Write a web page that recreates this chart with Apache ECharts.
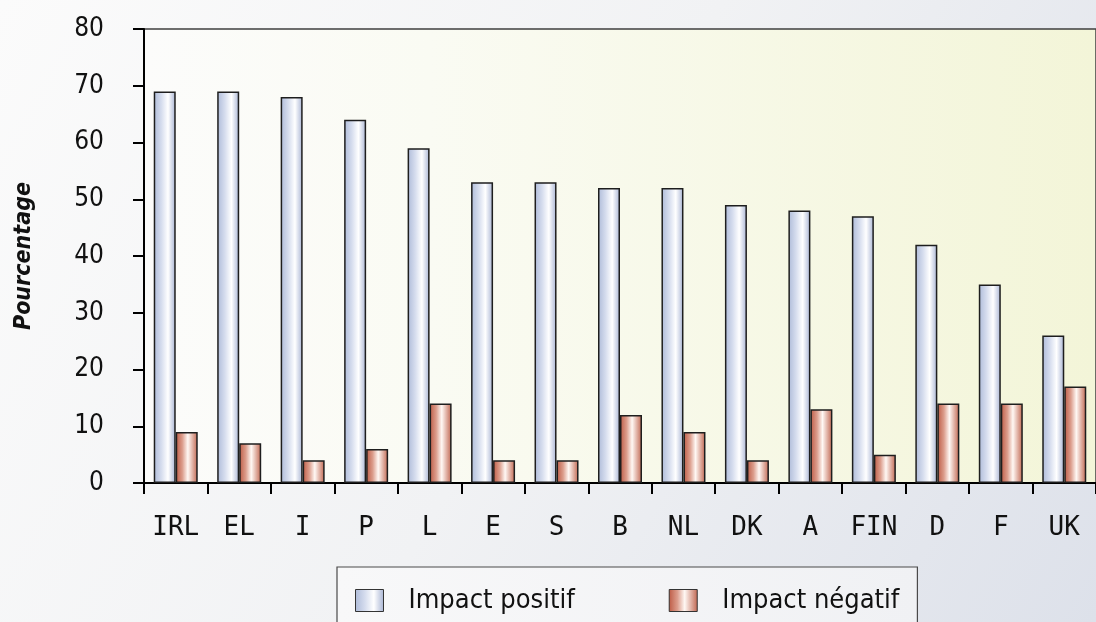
<!DOCTYPE html>
<html>
<head>
<meta charset="utf-8">
<script src="https://cdn.jsdelivr.net/npm/echarts@6/dist/echarts.min.js"></script>
<style>
html,body{margin:0;padding:0;}
#c{width:1096px;height:622px;}
</style>
</head>
<body>
<div id="c"></div>
<script>
const categories = ['IRL','EL','I','P','L','E','S','B','NL','DK','A','FIN','D','F','UK'];
const positif = [69,69,68,64,59,53,53,52,52,49,48,47,42,35,26];
const negatif = [9,7,4,6,14,4,4,12,9,4,13,5,14,14,17];
const seriesNames = ['Impact positif','Impact négatif'];
const yTicks = {min:0, max:80, interval:10};

const FONT = '"DejaVu Sans Condensed","DejaVu Sans",sans-serif';

function hGrad(stops){
  return {type:'linear',x:0,y:0,x2:1,y2:0,colorStops:stops};
}
const blueGrad = hGrad([
  {offset:0,color:'#aebbd9'},
  {offset:0.35,color:'#d6ddee'},
  {offset:0.65,color:'#ffffff'},
  {offset:1,color:'#a7b3d3'}
]);
const redGrad = hGrad([
  {offset:0,color:'#bd5a44'},
  {offset:0.3,color:'#dc9d8c'},
  {offset:0.55,color:'#fff8f4'},
  {offset:1,color:'#c0654f'}
]);

const chart = echarts.init(document.getElementById('c'), null, {renderer:'canvas'});
chart.setOption({
  backgroundColor: {type:'linear',x:0,y:0,x2:1,y2:1,colorStops:[
    {offset:0,color:'#fbfbfb'},
    {offset:0.5,color:'#f1f2f4'},
    {offset:1,color:'#dde1ea'}
  ]},
  animation:false,
  grid:{
    left:144, top:29, width:962.5, height:454,
    show:true,
    borderColor:'#3f3f3f', borderWidth:1.5,
    backgroundColor: hGrad([
      {offset:0,color:'#fcfcfb'},
      {offset:0.3,color:'#fafbf3'},
      {offset:1,color:'#f3f5d8'}
    ])
  },
  legend:{
    data:seriesNames,
    left:337, top:567,
    padding:[20,18,40,18],
    itemWidth:28, itemHeight:22, itemGap:94,
    icon:'rect',
    backgroundColor:{type:'linear',x:0,y:0,x2:1,y2:0,colorStops:[
      {offset:0,color:'#f8f8f9'},{offset:1,color:'#f0f1f4'}]},
    borderColor:'#4a4a4a', borderWidth:1.2,
    textStyle:{fontFamily:FONT, fontSize:27, color:'#111', padding:[0,0,0,20]},
    itemStyle:{borderColor:'#333', borderWidth:1}
  },
  xAxis:{
    type:'category',
    data:categories,
    axisLine:{lineStyle:{color:'#000',width:2}},
    axisTick:{show:true,length:11,lineStyle:{color:'#000',width:2}},
    axisLabel:{fontFamily:'"DejaVu Sans Mono",monospace',fontSize:26,color:'#111',margin:32}
  },
  yAxis:{
    type:'value',
    min:yTicks.min, max:yTicks.max, interval:yTicks.interval,
    name:'Pourcentage',
    nameLocation:'middle',
    nameGap:108,
    nameTextStyle:{fontFamily:FONT,fontSize:23,fontWeight:'bold',fontStyle:'italic',color:'#111'},
    axisLine:{show:true,lineStyle:{color:'#000',width:2}},
    axisTick:{show:true,length:11,lineStyle:{color:'#000',width:2}},
    splitLine:{show:false},
    axisLabel:{fontFamily:FONT,fontSize:26,color:'#111',margin:40}
  },
  series:[
    {name:seriesNames[0], type:'bar', data:positif, barWidth:22, barGap:'0%',
     itemStyle:{color:blueGrad, borderColor:'#1e1e1e', borderWidth:1.5}},
    {name:seriesNames[1], type:'bar', data:negatif, barWidth:22, barGap:'0%',
     itemStyle:{color:redGrad, borderColor:'#1e1e1e', borderWidth:1.5}}
  ]
});
</script>
</body>
</html>
